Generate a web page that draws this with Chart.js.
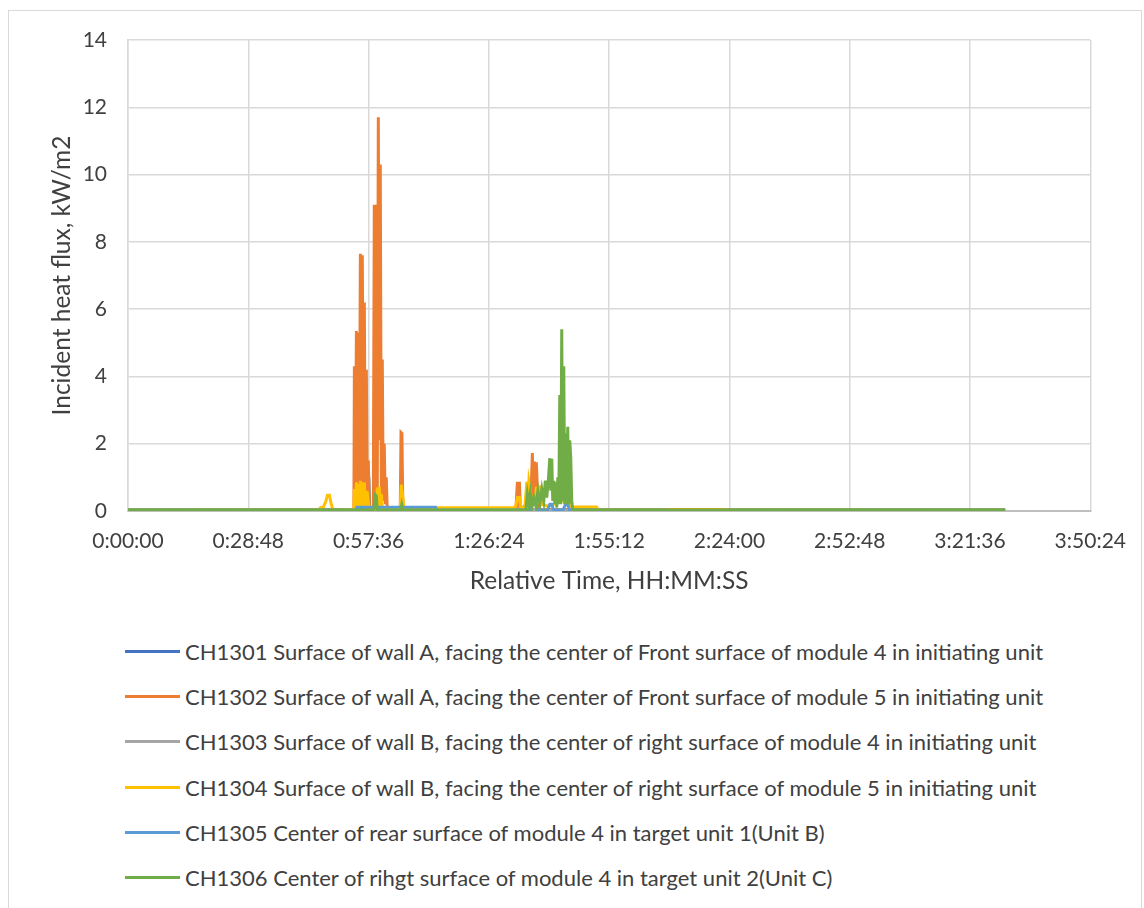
<!DOCTYPE html>
<html>
<head>
<meta charset="utf-8">
<title>Incident heat flux</title>
<script src="https://cdn.jsdelivr.net/npm/chart.js@4.4.1/dist/chart.umd.min.js"></script>
<style>
  body { margin: 0; background: #fff; font-family: Lato, sans-serif; }
  #frame { position: absolute; left: 8px; top: 10px; width: 1132px; height: 905px; border: 1px solid #d9d9d9; }
  #wrap { position: absolute; left: 0; top: 0; width: 1144px; height: 600px; }
  #legend { position: absolute; left: 125px; top: 629px; list-style: none; margin: 0; padding: 0; }
  #legend li { height: 45.2px; display: flex; align-items: center; font-size: 22px; color: #404040; white-space: nowrap; }
  #legend .swatch { display: inline-block; width: 55px; height: 3px; margin-right: 5px; }
</style>
</head>
<body>
<div id="frame"></div>
<div id="wrap"><canvas id="graph" width="1144" height="600"></canvas></div>
<ul id="legend"></ul>
<script>
// time in seconds from start, flux in kW/m2
const labels = [
  'CH1301 Surface of wall A, facing the center of Front surface of module 4 in initiating unit',
  'CH1302 Surface of wall A, facing the center of Front surface of module 5 in initiating unit',
  'CH1303 Surface of wall B, facing the center of right surface of module 4 in initiating unit',
  'CH1304 Surface of wall B, facing the center of right surface of module 5 in initiating unit',
  'CH1305 Center of rear surface of module 4 in target unit 1(Unit B)',
  'CH1306 Center of rihgt surface of module 4 in target unit 2(Unit C)'
];
const colors = ['#4472C4', '#ED7D31', '#A5A5A5', '#FFC000', '#5B9BD5', '#70AD47'];

const ch1301Time = [0, 3352, 3366, 3381, 3395, 3431, 3445, 3459, 3471, 12600];
const ch1301Flux = [0.03, 0.03, 0.9, 0.5, 0.03, 0.03, 1.03, 1.0, 0.03, 0.03];

const ch1302Time = [0, 3245, 3252, 3266, 3281, 3295, 3309, 3323, 3338, 3352, 3366, 3381, 3395, 3409, 3424, 3438, 3452, 3467, 3481,
  3524, 3538, 3553, 3567, 3581, 3596, 3610, 3624, 3639, 3653, 3667, 3681, 3696, 3710, 3724,
  3911, 3922, 3935, 3947, 3961,
  5572, 5594, 5608, 5623, 5637, 5787, 5809, 5823, 5838, 5852, 5866, 5888, 5916, 12600];
const ch1302Flux = [0.03, 0.05, 4.3, 0.3, 5.35, 0.4, 5.3, 0.5, 7.65, 0.6, 7.6, 0.5, 6.2, 0.4, 4.2, 0.3, 1.5, 0.1, 0.05,
  0.05, 9.1, 0.3, 9.1, 0.4, 11.7, 2.1, 10.3, 0.5, 4.5, 0.3, 2.0, 0.2, 1.0, 0.05,
  0.05, 2.33, 2.3, 0.3, 0.05,
  0.05, 0.87, 0.1, 0.87, 0.05, 0.3, 1.72, 0.2, 1.47, 0.2, 1.45, 0.3, 0.05, 0.03];

const ch1303Time = [0, 6375, 6390, 8600, 8615, 12600];
const ch1303Flux = [0.03, 0.03, 0.0, 0.0, 0.03, 0.03];

const ch1304Time = [0, 2736, 2765, 2808, 2844, 2865, 2894, 2915, 2937, 2965,
  3245, 3252, 3266, 3281, 3295, 3309, 3323, 3338, 3352, 3366, 3381, 3395, 3409, 3424, 3438, 3452, 3467,
  3574, 3581, 3596, 3610, 3624, 3639, 3653, 3667,
  3911, 3925, 3944, 3961, 3982, 4418, 4430,
  5544, 5572, 5594, 5623, 5644, 5701, 5730, 5744, 5759, 5780, 5802, 5845, 5866, 5880, 5895, 5923, 5945, 6016, 6117, 6231, 6288, 6303, 6324, 6346, 6375,
  6733, 6754, 12600];
const ch1304Flux = [0.03, 0.03, 0.1, 0.12, 0.3, 0.47, 0.47, 0.25, 0.08, 0.03,
  0.05, 0.65, 0.1, 0.85, 0.1, 0.8, 0.1, 0.9, 0.1, 0.85, 0.1, 0.85, 0.1, 0.6, 0.1, 0.3, 0.05,
  0.05, 0.7, 0.1, 0.72, 0.1, 0.5, 0.1, 0.05,
  0.05, 0.78, 0.5, 0.15, 0.06, 0.06, 0.1,
  0.1, 0.15, 0.4, 0.4, 0.1, 0.1, 0.87, 0.2, 0.87, 0.6, 0.3, 0.2, 0.72, 0.2, 0.72, 0.72, 0.2, 0.15, 0.2, 0.3, 0.3, 0.87, 0.6, 0.2, 0.12,
  0.12, 0.03, 0.03];

const ch1305Time = [0, 3270, 3290, 4420, 4440, 5780, 5800, 5830, 5860, 5880, 6030, 6060, 6090, 6110, 6250, 6280, 6320, 6340,
  7750, 7770, 8590, 8610, 12600];
const ch1305Flux = [0.03, 0.03, 0.11, 0.11, 0.03, 0.03, 0.24, 0.2, 0.24, 0.03, 0.03, 0.2, 0.2, 0.03, 0.03, 0.18, 0.18, 0.03,
  0.03, 0.0, 0.0, 0.03, 0.03];

const ch1306Time = [0, 3531, 3553, 3567, 3581, 3918, 3932, 3946,
  5716, 5737, 5759, 5780, 5802, 5830, 5859, 5888, 5916, 5945, 5973, 5995, 6016, 6038, 6059, 6074, 6088, 6102, 6117, 6131,
  6145, 6160, 6174, 6188, 6203, 6217, 6231, 6245, 6260, 6274, 6288, 6303, 6317, 6331, 6346, 6360, 6375, 6389, 12602];
const ch1306Flux = [0.03, 0.03, 0.48, 0.45, 0.03, 0.03, 0.18, 0.03,
  0.03, 0.5, 0.2, 0.53, 0.1, 0.4, 0.15, 0.6, 0.2, 0.65, 0.3, 0.9, 0.4, 0.9, 1.57, 0.6, 1.55, 0.3, 0.9, 0.2,
  0.85, 0.1, 1.0, 0.2, 3.45, 0.2, 5.4, 0.3, 4.3, 0.2, 2.3, 0.2, 2.5, 0.2, 2.1, 1.6, 0.3, 0.03, 0.03];

const xTicks = ['0:00:00', '0:28:48', '0:57:36', '1:26:24', '1:55:12', '2:24:00', '2:52:48', '3:21:36', '3:50:24'];
const yTicks = [0, 2, 4, 6, 8, 10, 12, 14];

const series = [
  [ch1301Time, ch1301Flux], [ch1302Time, ch1302Flux], [ch1303Time, ch1303Flux],
  [ch1304Time, ch1304Flux], [ch1305Time, ch1305Flux], [ch1306Time, ch1306Flux]
];

function toSec(s) {
  let p = s.split(':').map(Number);
  return p[0] * 3600 + p[1] * 60 + p[2];
}
const tickSec = xTicks.map(toSec);

const textColor = '#404040';
const tickFont = { family: 'Lato', size: 21 };
const titleFont = { family: 'Lato', size: 24.5 };

let datasets = series.map((s, i) => ({
  label: labels[i],
  data: s[0].map((t, j) => ({ x: t, y: s[1][j] })),
  borderColor: colors[i],
  backgroundColor: colors[i],
  borderWidth: 3,
  pointRadius: 0,
  tension: 0,
  order: 5 - i   // last series on top, like the original
}));

let ctx = document.getElementById('graph');
let chart = new Chart(ctx, {
  type: 'line',
  data: { datasets: datasets },
  options: {
    responsive: false,
    animation: false,
    layout: { padding: { left: 0, right: 51, top: 40, bottom: 0 } },
    plugins: { legend: { display: false }, tooltip: { enabled: false } },
    scales: {
      x: {
        type: 'linear',
        min: tickSec[0],
        max: tickSec[tickSec.length - 1],
        afterBuildTicks: (axis) => { axis.ticks = tickSec.map(v => ({ value: v })); },
        afterFit: (axis) => { axis.height = 89; },
        ticks: {
          callback: (v) => xTicks[tickSec.indexOf(v)],
          autoSkip: false, maxRotation: 0, padding: 18,
          color: textColor, font: tickFont
        },
        grid: { color: '#d9d9d9', lineWidth: 1.5, drawTicks: false },
        border: { color: '#bfbfbf', width: 2 },
        title: {
          display: true, text: 'Relative Time, HH:MM:SS',
          color: textColor, font: titleFont, padding: { top: 0, bottom: 4 }
        }
      },
      y: {
        min: yTicks[0],
        max: yTicks[yTicks.length - 1],
        afterBuildTicks: (axis) => { axis.ticks = yTicks.map(v => ({ value: v })); },
        afterFit: (axis) => { axis.width = 128; },
        ticks: { padding: 21, color: textColor, font: tickFont },
        grid: { color: '#d9d9d9', lineWidth: 1.5, drawTicks: false },
        border: { color: '#d9d9d9', width: 1.5 },
        title: {
          display: true, text: 'Incident heat flux, kW/m2',
          color: textColor, font: titleFont, padding: { top: 47, bottom: 0 }
        }
      }
    }
  }
});

// legend below the chart, one entry per line
let ul = document.getElementById('legend');
chart.data.datasets.forEach(ds => {
  let li = document.createElement('li');
  let sw = document.createElement('span');
  sw.className = 'swatch';
  sw.style.background = ds.borderColor;
  li.appendChild(sw);
  li.appendChild(document.createTextNode(ds.label));
  ul.appendChild(li);
});
</script>
</body>
</html>
